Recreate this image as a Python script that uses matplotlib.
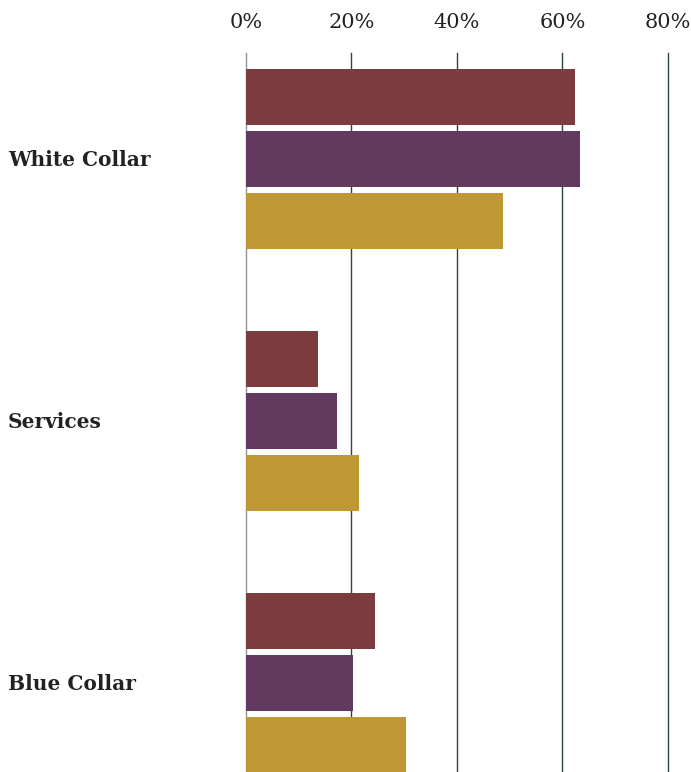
import numpy as np
import matplotlib.pyplot as plt
from matplotlib.transforms import blended_transform_factory

# data
categories = ['White Collar', 'Services', 'Blue Collar']
series_a = [62.3, 13.7, 24.4]   # dark red
series_b = [63.3, 17.2, 20.3]   # purple
series_c = [48.7, 21.5, 30.3]   # gold
tick_vals = [0, 20, 40, 60, 80]
tick_labels = ['0%', '20%', '40%', '60%', '80%']

colors = ['#7C3B3D', '#623A5F', '#BF9735']

W, H = 691, 772
fig = plt.figure(figsize=(W / 100, H / 100), dpi=100)
# axes: left at 0%, right at 80%, top where the grid starts, bottom at figure edge
ax = fig.add_axes([246 / W, 0, (668 - 246) / W, (H - 53) / H])

step = 1.0          # distance between bars in a group
bar_h = 56 / 62     # bar thickness
gap = 262 / 62      # distance between group centres
centres = np.arange(len(categories)) * gap

for k, (vals, col) in enumerate(zip([series_a, series_b, series_c], colors)):
    ax.barh(centres + (k - 1) * step, vals, height=bar_h, color=col, zorder=3)

ax.set_xlim(0, 80)
ax.set_ylim((H - 159) / 62, (53 - 159) / 62)

for v in tick_vals:
    ax.axvline(v, color='#2E4447' if v else '#8A9799', lw=1.0, zorder=1, clip_on=False)

ax.xaxis.tick_top()
ax.set_xticks(tick_vals)
ax.set_xticklabels(tick_labels, fontsize=15, family='DejaVu Serif', color='#222222')
ax.tick_params(axis='x', length=0, pad=15)
ax.set_yticks([])
for s in ax.spines.values():
    s.set_visible(False)

trans = blended_transform_factory(fig.transFigure, ax.transData)
for c, name in zip(centres, categories):
    ax.text(8 / W, c + 0.02, name, transform=trans,
            ha='left', va='center', fontsize=14.5, fontweight='bold',
            family='DejaVu Serif', color='#222222')

fig.savefig('out.png', dpi=100)
